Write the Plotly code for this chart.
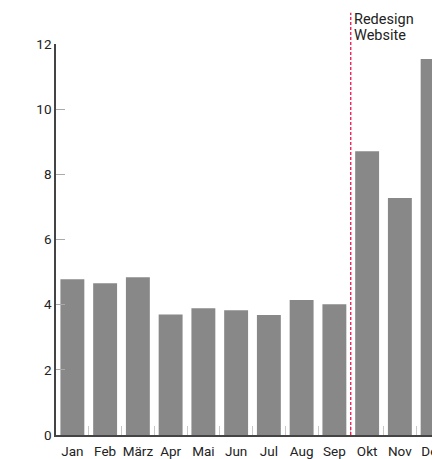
import plotly.graph_objects as go

months = ["Jan", "Feb", "März", "Apr", "Mai", "Jun", "Jul", "Aug", "Sep", "Okt", "Nov", "Dez"]
values = [4.78, 4.66, 4.84, 3.70, 3.89, 3.83, 3.68, 4.14, 4.01, 8.71, 7.27, 11.54]
y_ticks = [0, 2, 4, 6, 8, 10, 12]
event_lines = ["Redesign", "Website"]
event_position = 8.5  # between Sep and Okt

FONT = "Roboto"
W, H = 460, 459

fig = go.Figure()
fig.add_trace(go.Bar(
    x=months, y=values,
    marker=dict(color="#888888", line=dict(width=0)),
    hoverinfo="x+y",
))

fig.add_shape(
    type="line", xref="x", yref="paper",
    x0=event_position, x1=event_position, y0=0, y1=1.08,
    line=dict(color="#f0104a", width=1.3, dash="3px,2px"),
)
for i, line in enumerate(event_lines):
    fig.add_annotation(
        x=event_position, xref="x", y=1.086, yref="paper",
        yshift=-16 * i,
        text=line, showarrow=False, borderpad=0,
        xanchor="left", yanchor="top", align="left", xshift=2,
        font=dict(family=FONT, size=14.5, color="#222222"),
    )

fig.update_layout(
    width=W, height=H,
    margin=dict(l=56, r=W - 449, t=44, b=24, autoexpand=False),
    paper_bgcolor="white", plot_bgcolor="white",
    bargap=0.27,
    showlegend=False,
    font=dict(family=FONT, size=13, color="#222222"),
)
fig.update_xaxes(
    type="category", range=[-0.5, 11.5], tickangle=0, automargin=False,
    showline=True, linecolor="#444444", linewidth=1.5,
    ticks="inside", tickson="boundaries", ticklen=9, tickcolor="#c8c8c8", tickwidth=1,
    ticklabelstandoff=3,
    showgrid=False, zeroline=False,
    tickfont=dict(family=FONT, size=13.5, color="#222222"),
)
fig.update_yaxes(
    range=[0, 12], tickvals=y_ticks, automargin=False,
    showline=True, linecolor="#444444", linewidth=1.5,
    ticks="inside", ticklen=9, tickcolor="#aaaaaa", tickwidth=1,
    showgrid=False, zeroline=False,
    tickfont=dict(family=FONT, size=13.5, color="#222222"),
)

fig.write_html(
    "out.html",
    config={"displayModeBar": False},
    post_script="document.body.style.margin='0';document.body.style.overflow='hidden';document.documentElement.style.overflow='hidden';",
)
